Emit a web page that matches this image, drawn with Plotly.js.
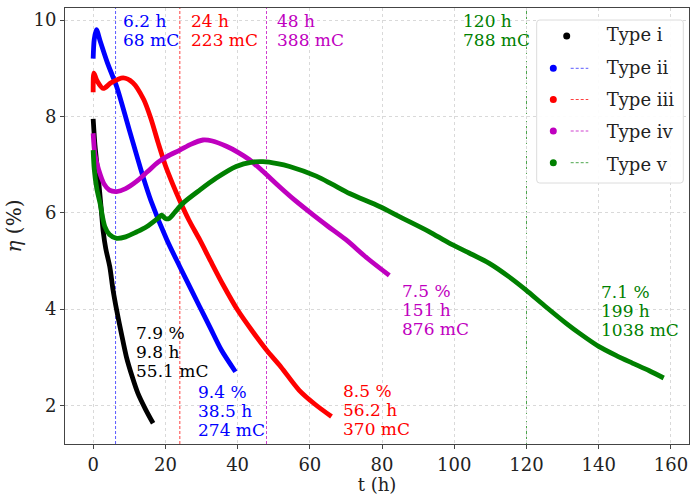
<!DOCTYPE html>
<html>
<head>
<meta charset="utf-8">
<script src="https://cdn.plot.ly/plotly-3.0.1.min.js"></script>
<style>html,body{margin:0;padding:0;background:#fff;}#chart{width:691px;height:495px;}</style>
</head>
<body>
<div id="chart"></div>
<script>
// ---- Data ----
const seriesNames = ["Type i", "Type ii", "Type iii", "Type iv", "Type v"];
const seriesColors = ["#000000", "#0000ff", "#ff0000", "#bf00bf", "#008000"];
const dashColors = ["rgba(0,0,0,0.7)", "rgba(0,0,255,0.65)", "rgba(255,0,0,0.75)", "rgba(191,0,191,0.75)", "rgba(0,128,0,0.7)"];

const t_i   = [0, 0.5, 1.4, 2.2, 2.8, 3.5, 4.6, 5.5, 6.5, 7.8, 9.2, 10.8, 12.4, 14.5, 16.6];
const eta_i = [7.95, 7.4, 6.75, 6.1, 5.6, 5.25, 4.88, 4.4, 3.98, 3.5, 3.01, 2.6, 2.25, 1.92, 1.63];

const t_ii   = [0, 0.3, 0.9, 2, 4, 6.5, 10, 13.8, 16, 20.4, 24, 29.5, 32.5, 35.5, 39.4];
const eta_ii = [9.2, 9.6, 9.8, 9.55, 9.1, 8.62, 7.72, 6.75, 6.25, 5.44, 4.88, 4.05, 3.6, 3.15, 2.7];

const t_iii   = [0, 0.2, 1, 2.8, 5, 8.3, 11, 14, 16, 18, 20, 22, 24, 26.5, 29.5, 32.5, 36, 40, 44, 48, 52, 57, 61.5, 66];
const eta_iii = [8.5, 8.9, 8.75, 8.58, 8.7, 8.8, 8.7, 8.35, 7.95, 7.45, 6.98, 6.6, 6.25, 5.85, 5.44, 5.0, 4.5, 3.98, 3.55, 3.15, 2.8, 2.32, 2.02, 1.77];

const t_iv   = [0, 0.5, 1.5, 3, 4.5, 6.5, 9, 12, 15, 18, 20.5, 24, 27, 30.4, 33, 36.9, 40, 43.3, 47, 51.6, 56, 61, 65, 70, 76, 82];
const eta_iv = [7.65, 7.2, 6.9, 6.6, 6.47, 6.44, 6.5, 6.65, 6.85, 7.05, 7.17, 7.3, 7.42, 7.51, 7.49, 7.38, 7.26, 7.1, 6.86, 6.54, 6.25, 5.95, 5.72, 5.44, 5.05, 4.7];

const t_v   = [0, 0.3, 1, 1.9, 3.2, 4.5, 6.5, 9, 12, 14.8, 18, 19, 20, 21, 22.5, 24.9, 29.5, 34.1, 39.6, 44, 47, 51, 54.4, 61.8, 66, 71, 79.3, 84.8, 93, 98.6, 104, 109.7, 115, 119.8, 125, 130.9, 135, 140.1, 145, 149.3, 154, 158];
const eta_v = [7.3, 6.9, 6.5, 6.2, 5.72, 5.55, 5.47, 5.5, 5.6, 5.71, 5.89, 5.95, 5.88, 5.88, 6.0, 6.2, 6.47, 6.72, 6.96, 7.05, 7.06, 7.02, 6.96, 6.76, 6.6, 6.4, 6.13, 5.92, 5.61, 5.37, 5.17, 4.95, 4.68, 4.4, 4.07, 3.71, 3.48, 3.22, 3.03, 2.88, 2.72, 2.57];

// vertical markers (time in h) and their colours (series index)
const markerT = [6.2, 24, 48, 120];
const markerSeries = [1, 2, 3, 4];
const markerLabels = [["6.2 h", "68 mC"], ["24 h", "223 mC"], ["48 h", "388 mC"], ["120 h", "788 mC"]];

// end-of-run labels
const endLabels = [
  ["7.9 %", "9.8 h", "55.1 mC"],
  ["9.4 %", "38.5 h", "274 mC"],
  ["8.5 %", "56.2 h", "370 mC"],
  ["7.5 %", "151 h", "876 mC"],
  ["7.1 %", "199 h", "1038 mC"]
];

const xTicks = [0, 20, 40, 60, 80, 100, 120, 140, 160];
const yTicks = [2, 4, 6, 8, 10];

// ---- Build the figure ----
const allT = [t_i, t_ii, t_iii, t_iv, t_v];
const allEta = [eta_i, eta_ii, eta_iii, eta_iv, eta_v];
const FONT = "DejaVu Serif, serif";
const LINE_H = 19;

const traces = [];
allT.forEach((t, k) => {
  traces.push({
    x: t, y: allEta[k], type: "scatter", mode: "lines",
    line: {color: seriesColors[k], width: 4.8, shape: "spline", smoothing: 0.8},
    showlegend: false, hoverinfo: "skip"
  });
});
// legend entries (text only; glyphs drawn as shapes below)
seriesNames.forEach((n, k) => {
  traces.push({
    x: [null], y: [null], type: "scatter", mode: "markers", name: n,
    legendgroup: "g" + k,
    marker: {color: "rgba(0,0,0,0)", size: 7}
  });
});

const shapes = markerT.map((t, i) => ({
  type: "line", xref: "x", yref: "paper", x0: t, x1: t, y0: 0, y1: 1,
  line: {color: dashColors[markerSeries[i]], width: 1, dash: "3px,2px"}, layer: "below"
}));

// legend box + glyphs (pixel placement within the figure)
const PLOT_L = 65, PLOT_W = 624, PLOT_B = 444, PLOT_H = 436;
const px2x = p => (p - PLOT_L) / PLOT_W;
const py2y = p => (PLOT_B - p) / PLOT_H;
const legBox = {x0: 536.7, x1: 683.3, y0: 20, y1: 183, r: 3};
const bw = legBox.x1 - legBox.x0, bh = legBox.y1 - legBox.y0, r = legBox.r;
shapes.push({
  type: "path", xref: "paper", yref: "paper", xsizemode: "pixel", ysizemode: "pixel",
  xanchor: px2x(legBox.x0), yanchor: py2y(legBox.y1),
  path: `M ${r} 0 L ${bw - r} 0 Q ${bw} 0 ${bw} ${r} L ${bw} ${bh - r} Q ${bw} ${bh} ${bw - r} ${bh} ` +
        `L ${r} ${bh} Q 0 ${bh} 0 ${bh - r} L 0 ${r} Q 0 0 ${r} 0 Z`,
  fillcolor: "rgba(255,255,255,0.9)", line: {color: "#dcdcdc", width: 1}
});
const legRowY = [36, 68.3, 99.5, 131, 162.7];
seriesNames.forEach((n, k) => {
  const hasLine = markerSeries.indexOf(k) >= 0;
  const mx = hasLine ? 553.3 : 566.7;
  shapes.push({
    type: "circle", xref: "paper", yref: "paper", xsizemode: "pixel", ysizemode: "pixel",
    xanchor: px2x(mx), yanchor: py2y(legRowY[k]), x0: -3.5, x1: 3.5, y0: -3.5, y1: 3.5,
    fillcolor: seriesColors[k], line: {width: 0}
  });
  if (hasLine) {
    shapes.push({
      type: "line", xref: "paper", yref: "paper", xsizemode: "pixel", ysizemode: "pixel",
      xanchor: px2x(570.7), yanchor: py2y(legRowY[k]), x0: 0, x1: 17.6, y0: 0, y1: 0,
      line: {color: dashColors[k], width: 1, dash: "3px,2px"}
    });
  }
});

// label placements
const markerLabelPos = [7.8, 26.6, 50.3, 101.8];
const endLabelPos = [[11.4, 3.76], [28.5, 2.52], [68.6, 2.55], [85.0, 4.63], [140.0, 4.6]];

const annotations = [];
markerLabels.forEach((lines, i) => {
  lines.forEach((txt, j) => {
    annotations.push({
      text: txt, x: markerLabelPos[i], y: 1, xref: "x", yref: "paper",
      xanchor: "left", yanchor: "top", yshift: -1 - LINE_H * j,
      showarrow: false, font: {family: FONT, size: 17, color: seriesColors[markerSeries[i]]}
    });
  });
});
endLabels.forEach((lines, i) => {
  lines.forEach((txt, j) => {
    annotations.push({
      text: txt, x: endLabelPos[i][0], y: endLabelPos[i][1], xref: "x", yref: "y",
      xanchor: "left", yanchor: "top", yshift: -LINE_H * j,
      showarrow: false, font: {family: FONT, size: 17, color: seriesColors[i]}
    });
  });
});

const axisCommon = {
  showline: true, mirror: true, linecolor: "#444", linewidth: 1,
  ticks: "outside", ticklen: 4, tickcolor: "#444",
  showgrid: true, gridcolor: "#d9d9d9", gridwidth: 1, griddash: "dot",
  zeroline: false, tickfont: {family: FONT, size: 18, color: "#222"}
};

const layout = {
  width: 691, height: 495,
  margin: {l: 65, r: 2, t: 8, b: 51},
  paper_bgcolor: "#fff", plot_bgcolor: "#fff",
  font: {family: FONT, color: "#222"},
  xaxis: Object.assign({}, axisCommon, {
    range: [-7.8, 165], tickvals: xTicks, ticktext: xTicks.map(String),
    title: {text: "t (h)", font: {family: FONT, size: 18, color: "#222"}, standoff: 0}
  }),
  yaxis: Object.assign({}, axisCommon, {
    range: [1.2, 10.25], tickvals: yTicks, ticktext: yTicks.map(String),
    title: {text: "<i>η</i> (%)", font: {family: FONT, size: 20, color: "#222"}, standoff: 6}
  }),
  legend: {
    x: px2x(536.7), y: py2y(16), xanchor: "left", yanchor: "top",
    bgcolor: "rgba(0,0,0,0)", borderwidth: 0,
    font: {family: FONT, size: 18, color: "#222"}, itemwidth: 60, tracegroupgap: 6
  },
  shapes: shapes,
  annotations: annotations
};

Plotly.newPlot("chart", traces, layout, {displayModeBar: false, staticPlot: true});
</script>
</body>
</html>
